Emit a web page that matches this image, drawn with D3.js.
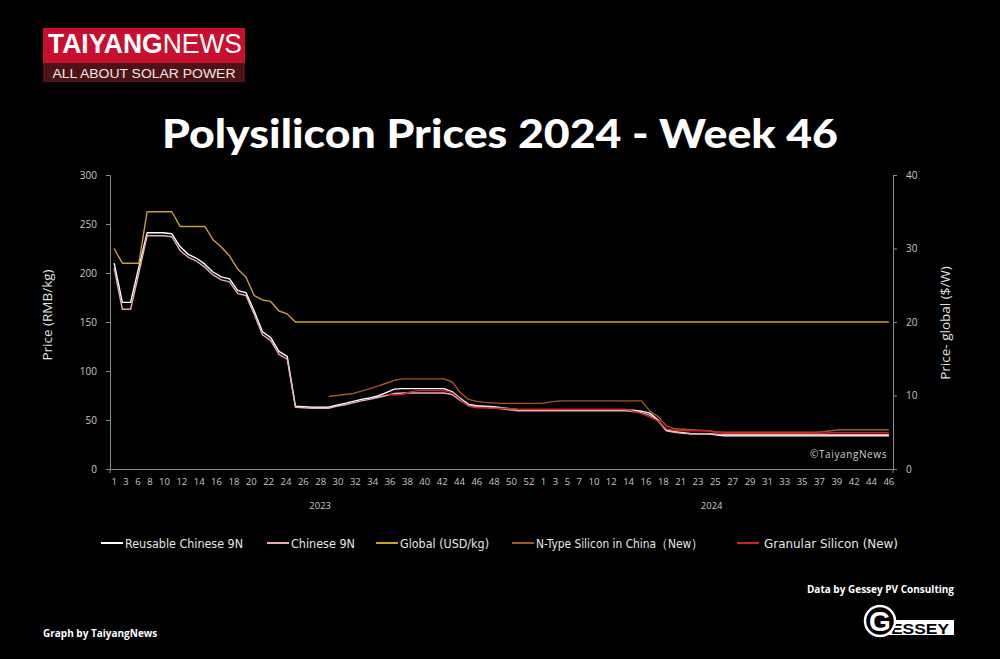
<!DOCTYPE html>
<html>
<head>
<meta charset="utf-8">
<script src="https://cdn.jsdelivr.net/npm/d3@7"></script>
<style>
  body { margin: 0; background: #000; }
  svg { display: block; }
</style>
</head>
<body>
<div id="chart"></div>
<script>
// week categories (some weeks missing in the source data)
const weeks2023 = ["1","2","3","4","6","7","8","9","10","11","12","13","14","15","16","17","18","19","20","21",
  "22","23","24","25","26","27","28","29","30","31","32","33","34","35","36","37","38","39","40","41",
  "42","43","44","45","46","47","48","49","50","51","52"];
const weeks2024 = ["0","1","2","3","4","5","6","7","9","10","11","12","13","14","15","16","17","18","20","21",
  "22","23","24","25","26","27","28","29","30","31","32","33","34","35","36","37","38","39","41","42",
  "43","44","45","46"];

const leftTicks = [0, 50, 100, 150, 200, 250, 300];
const rightTicks = [0, 10, 20, 30, 40];

// RMB/kg
const reusable9N = [
  210, 170, 170, 206, 241, 241, 241, 240, 227, 219,
  215, 209, 201, 196, 194, 182, 180, 161, 140, 134,
  120, 115, 64, 63.5, 63, 63, 63, 65, 67, 69,
  71, 72.5, 74.5, 78, 81.5, 82, 82, 82, 82, 82,
  82, 79, 72, 66, 64.5, 64, 63.5, 62.5, 61.5, 60.5,
  60, 60, 60, 60, 60, 60, 60, 60, 60, 60,
  60, 60, 60, 60, 59, 57, 50, 39.5, 38, 37,
  36, 36, 36, 35, 34, 34, 34, 34, 34, 34,
  34, 34, 34, 34, 34, 34, 34, 34, 34, 34,
  34, 34, 34, 34, 34];
const chinese9N = [
  205, 163, 163, 200, 238, 238, 238, 237, 223, 216,
  212, 206, 198, 193, 191, 179, 177, 158, 137, 131,
  117, 112, 63, 62.5, 62, 62, 62, 64, 65.5, 67.5,
  69.5, 71, 73, 75, 77, 77.5, 77.5, 77.5, 77.5, 77.5,
  77.5, 76, 70, 65, 63.5, 63, 62.5, 61.5, 60.5, 59.5,
  59.5, 59.5, 59.5, 59.5, 59.5, 59.5, 59.5, 59.5, 59.5, 59.5,
  59.5, 59.5, 59.5, 58.5, 57.5, 55, 49, 39, 37.5, 36.5,
  36, 36, 36, 35.5, 35, 35, 35, 35, 35, 35,
  35, 35, 35, 35, 35, 35, 35, 35, 35, 35,
  35, 35, 35, 35, 35];
// USD/kg, right axis
const globalUSD = [
  30, 28, 28, 28, 35, 35, 35, 35, 33, 33,
  33, 33, 31.2, 30.2, 29, 27.2, 26.1, 23.6, 23, 22.8,
  21.5, 21.1, 20, 20, 20, 20, 20, 20, 20, 20,
  20, 20, 20, 20, 20, 20, 20, 20, 20, 20,
  20, 20, 20, 20, 20, 20, 20, 20, 20, 20,
  20, 20, 20, 20, 20, 20, 20, 20, 20, 20,
  20, 20, 20, 20, 20, 20, 20, 20, 20, 20,
  20, 20, 20, 20, 20, 20, 20, 20, 20, 20,
  20, 20, 20, 20, 20, 20, 20, 20, 20, 20,
  20, 20, 20, 20, 20];
const nType = [
  null, null, null, null, null, null, null, null, null, null,
  null, null, null, null, null, null, null, null, null, null,
  null, null, null, null, null, null, 74, 75, 76, 77,
  79.5, 82, 84.5, 87.5, 90.5, 92, 92, 92, 92, 92,
  92, 89, 78, 71, 69, 68, 67.5, 67, 67, 67,
  67, 67, 67, 68.5, 69.5, 69.5, 69.5, 69.5, 69.5, 69.5,
  69.5, 69.5, 69.5, 69.5, 69.5, 59, 53.5, 44, 41, 40.5,
  40, 39.5, 39, 38, 37.5, 37.5, 37.5, 37.5, 37.5, 37.5,
  37.5, 37.5, 37.5, 37.5, 37.5, 37.5, 38, 39, 40, 40,
  40, 40, 40, 40, 40];
const granular = [
  null, null, null, null, null, null, null, null, null, null,
  null, null, null, null, null, null, null, null, null, null,
  null, null, null, null, null, null, null, null, null, null,
  null, null, null, 76, 75.5, 76, 79, 80, 80, 80,
  80, 78, 71, 64, 62.5, 62.5, 62, 62, 61.5, 61,
  61, 61, 61, 61, 61, 61, 61, 61, 61, 61,
  61, 61, 61, 59, 56.5, 53, 49, 41, 39.5, 39,
  39, 39, 39, 37.5, 36.5, 36.5, 36.5, 36.5, 36.5, 36.5,
  36.5, 36.5, 36.5, 36.5, 36.5, 36.5, 36.5, 37, 37, 37,
  37, 37, 37, 37, 37];

const seriesNames = ["Reusable Chinese 9N", "Chinese 9N", "Global (USD/kg)", "N-Type Silicon in China（New）", "Granular Silicon (New)"];
const seriesColors = ["#ffffff", "#e6aeb0", "#c9a227", "#a5561f", "#d0202c"];

const W = 1000, H = 659;
const svg = d3.select("#chart").append("svg").attr("width", W).attr("height", H)
  .style("background", "#000");

// logo
const logo = svg.append("g");
logo.append("rect").attr("x", 43).attr("y", 28).attr("width", 202).attr("height", 35).attr("fill", "#c8102e");
logo.append("rect").attr("x", 43).attr("y", 63).attr("width", 202).attr("height", 19).attr("fill", "#4d1418");
const lt = logo.append("text").attr("x", 48).attr("y", 52.5)
  .attr("font-family", "Liberation Sans, Arial, sans-serif").attr("font-size", 27).attr("fill", "#fff")
  .attr("textLength", 194).attr("lengthAdjust", "spacingAndGlyphs");
lt.append("tspan").attr("font-weight", "bold").text("TAIYANG");
lt.append("tspan").attr("font-weight", "normal").text("NEWS");
logo.append("text").attr("x", 144).attr("y", 77.5).attr("text-anchor", "middle")
  .attr("font-family", "Liberation Sans, Arial, sans-serif").attr("font-size", 12.5).attr("fill", "#f0e6e6")
  .attr("textLength", 183).attr("lengthAdjust", "spacingAndGlyphs")
  .text("ALL ABOUT SOLAR POWER");

// title
svg.append("text").attr("x", 500).attr("y", 148).attr("text-anchor", "middle")
  .attr("font-family", "Lato, 'Open Sans', sans-serif").attr("font-weight", 900).attr("font-size", 39)
  .attr("fill", "#fff").attr("textLength", 676).attr("lengthAdjust", "spacingAndGlyphs")
  .text("Polysilicon Prices 2024 - Week 46");

// scales
const keys = weeks2023.map(w => "2023-" + w).concat(weeks2024.map(w => "2024-" + w));
const x = d3.scaleBand().domain(keys).range([110, 893]);
const yL = d3.scaleLinear().domain([0, 300]).range([469, 175]);
const yR = d3.scaleLinear().domain([0, 40]).range([469, 175]);
const cx = i => x(keys[i]) + x.bandwidth() / 2;

const axisColor = "#8a8a8a", labelColor = "#c8c8c8";
const tickFont = "'Open Sans', 'DejaVu Sans', sans-serif";

function styleAxis(g) {
  g.select(".domain").attr("stroke", axisColor);
  g.selectAll(".tick line").attr("stroke", axisColor);
  g.selectAll(".tick text").attr("fill", labelColor).attr("font-family", tickFont).attr("font-size", 10);
}

svg.append("g").attr("transform", "translate(110,0)")
  .call(d3.axisLeft(yL).tickValues(leftTicks).tickSize(4).tickPadding(9))
  .call(styleAxis);
svg.append("g").attr("transform", "translate(893,0)")
  .call(d3.axisRight(yR).tickValues(rightTicks).tickSize(4).tickPadding(9))
  .call(styleAxis);

// x axis: label every other category
const xAxis = svg.append("g").attr("transform", "translate(0,469)")
  .call(d3.axisBottom(x).tickValues(keys.filter((k, i) => i % 2 === 0))
    .tickFormat(k => k.split("-")[1]).tickSize(0).tickPadding(9).tickSizeOuter(0))
  .call(styleAxis);
xAxis.selectAll(".tick text").attr("font-size", 9.5);
[110, 893].forEach(px => {
  xAxis.append("line").attr("x1", px).attr("x2", px).attr("y1", 0).attr("y2", 4).attr("stroke", axisColor);
});

// the labels sit as an evenly gapped run from the first to the last category
const tickNodes = xAxis.selectAll(".tick").nodes();
const tickText = tickNodes.map(n => d3.select(n).select("text"));
const widths = tickText.map(t => t.node().getComputedTextLength());
const tickKeys = tickNodes.map(n => d3.select(n).datum());
const firstC = x(tickKeys[0]) + x.bandwidth() / 2;
const lastC = x(tickKeys[tickKeys.length - 1]) + x.bandwidth() / 2;
let halfSum = 0;
for (let i = 0; i < widths.length - 1; i++) halfSum += (widths[i] + widths[i + 1]) / 2;
const gap = (lastC - firstC - halfSum) / (widths.length - 1);
let pos = firstC;
tickText.forEach((t, i) => {
  const center = x(tickKeys[i]) + x.bandwidth() / 2;
  t.attr("x", pos - center);
  if (i < widths.length - 1) pos += (widths[i] + widths[i + 1]) / 2 + gap;
});

// year group labels
const groups = [["2023", weeks2023], ["2024", weeks2024]];
groups.forEach(([yr, wk]) => {
  const first = x(yr + "-" + wk[0]);
  const last = x(yr + "-" + wk[wk.length - 1]) + x.bandwidth();
  svg.append("text").attr("x", (first + last) / 2).attr("y", 509).attr("text-anchor", "middle")
    .attr("fill", labelColor).attr("font-family", tickFont).attr("font-size", 9.5).text(yr);
});

// axis titles
svg.append("text").attr("transform", "translate(52,315) rotate(-90)").attr("text-anchor", "middle")
  .attr("fill", "#e0e0e0").attr("font-family", tickFont).attr("font-size", 13.5).text("Price (RMB/kg)");
svg.append("text").attr("transform", "translate(950,323) rotate(-90)").attr("text-anchor", "middle")
  .attr("fill", "#e0e0e0").attr("font-family", tickFont).attr("font-size", 13.5).text("Price- global ($/W)");

// lines
const allSeries = [
  { values: reusable9N, y: yL },
  { values: chinese9N, y: yL },
  { values: globalUSD, y: yR },
  { values: nType, y: yL },
  { values: granular, y: yL }
];
allSeries.forEach((s, si) => {
  const line = d3.line()
    .defined(d => d != null)
    .x((d, i) => cx(i))
    .y(d => s.y(d));
  svg.append("path").datum(s.values)
    .attr("d", line)
    .attr("fill", "none")
    .attr("stroke", seriesColors[si])
    .attr("stroke-width", 1.4)
    .attr("stroke-linejoin", "round");
});

// watermark
svg.append("text").attr("x", 887).attr("y", 458).attr("text-anchor", "end")
  .attr("fill", "#cfcfcf").attr("font-family", tickFont).attr("font-size", 10).attr("letter-spacing", 0.6)
  .text("©TaiyangNews");

// legend
const legendX = [101, 267, 376, 512, 737];
const legendTextW = [118, 64, 89, 167, 134];
const legend = svg.append("g");
seriesNames.forEach((n, i) => {
  legend.append("line").attr("x1", legendX[i]).attr("x2", legendX[i] + 22)
    .attr("y1", 543).attr("y2", 543).attr("stroke", seriesColors[i]).attr("stroke-width", 2);
  legend.append("text").attr("x", legendX[i] + 24 + (i === 4 ? 3 : 0)).attr("y", 547.5)
    .attr("fill", "#e6e6e6").attr("font-family", "'DejaVu Sans Condensed', 'Liberation Sans Narrow', sans-serif")
    .attr("font-size", 13).attr("textLength", legendTextW[i]).attr("lengthAdjust", "spacingAndGlyphs")
    .text(n);
});

// footer
svg.append("text").attr("x", 954).attr("y", 593).attr("text-anchor", "end")
  .attr("fill", "#fff").attr("font-family", "'Open Sans', sans-serif").attr("font-weight", "bold")
  .attr("font-size", 10).text("Data by Gessey PV Consulting");
svg.append("text").attr("x", 43).attr("y", 637)
  .attr("fill", "#fff").attr("font-family", "'Open Sans', sans-serif").attr("font-weight", "bold")
  .attr("font-size", 10).text("Graph by TaiyangNews");

// Gessey logo
const gl = svg.append("g");
gl.append("rect").attr("x", 886).attr("y", 620).attr("width", 68).attr("height", 15).attr("fill", "#fff");
gl.append("text").attr("x", 920).attr("y", 634).attr("text-anchor", "middle")
  .attr("fill", "#000").attr("font-family", "'Liberation Sans', Arial, sans-serif").attr("font-weight", "bold")
  .attr("font-size", 15).attr("textLength", 58).attr("lengthAdjust", "spacingAndGlyphs").text("ESSEY");
gl.append("circle").attr("cx", 880).attr("cy", 621).attr("r", 15).attr("fill", "#000")
  .attr("stroke", "#fff").attr("stroke-width", 2.5);
gl.append("text").attr("x", 880).attr("y", 631).attr("text-anchor", "middle")
  .attr("fill", "#fff").attr("font-family", "'Liberation Sans', Arial, sans-serif").attr("font-weight", "bold")
  .attr("font-size", 28).text("G");
</script>
</body>
</html>
